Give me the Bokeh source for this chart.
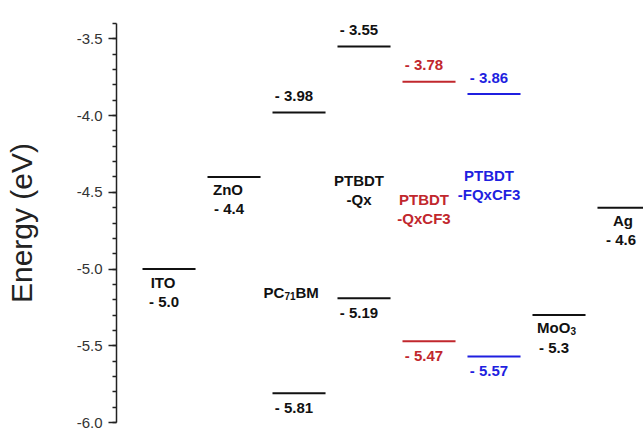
import math
from bokeh.plotting import figure
from bokeh.models import Range1d, SingleIntervalTicker, NumeralTickFormatter, ColumnDataSource
from bokeh.core.properties import value
from bokeh.embed import file_html
from bokeh.resources import INLINE

# ---------------- data ----------------
materials = ["ITO", "ZnO", "PC71BM", "PTBDT-Qx", "PTBDT-QxCF3", "PTBDT-FQxCF3", "MoO3", "Ag"]
electrode_levels = [-5.0, -4.4, None, None, None, None, -5.3, -4.6]
lumo_levels = [None, None, -3.98, -3.55, -3.78, -3.86, None, None]
homo_levels = [None, None, -5.81, -5.19, -5.47, -5.57, None, None]
material_colors = ["#111111", "#111111", "#111111", "#111111", "#c1272d", "#1f1fe0", "#111111", "#111111"]
# energy at which the material name of the organic layers is written
name_anchor = {"PC71BM": -5.15, "PTBDT-Qx": -4.42, "PTBDT-QxCF3": -4.55, "PTBDT-FQxCF3": -4.39}
axis_title = "Energy (eV)"

# ---------------- styles ----------------
FONT = "Liberation Sans"
HALF_W = 0.408
LBL_SIZE = "15px"
SUB_SIZE = "10px"

p = figure(width=643, height=429, output_backend="svg", toolbar_location=None,
           x_range=Range1d(-0.808, 7.3), y_range=Range1d(-6.0, -3.4),
           min_border_left=116, min_border_right=0, min_border_top=23, min_border_bottom=7)
p.xaxis.visible = False
p.xgrid.visible = False
p.ygrid.visible = False
p.outline_line_color = None
p.background_fill_color = "white"
p.border_fill_color = "white"

yax = p.yaxis[0]
yax.ticker = SingleIntervalTicker(interval=0.5, num_minor_ticks=5)
yax.formatter = NumeralTickFormatter(format="0.0")
yax.major_tick_out = 8
yax.major_tick_in = 0
yax.minor_tick_out = 4
yax.minor_tick_in = 0
yax.major_label_standoff = 6
yax.axis_line_width = 1.5
yax.axis_line_color = "#222222"
yax.major_tick_line_color = "#222222"
yax.minor_tick_line_color = "#222222"
yax.major_tick_line_width = 1.5
yax.minor_tick_line_width = 1.5
yax.major_label_text_font = FONT
yax.major_label_text_font_size = "15px"
yax.major_label_text_color = "#333333"
yax.axis_label = axis_title
yax.axis_label_text_font = FONT
yax.axis_label_text_font_size = "30px"
yax.axis_label_text_font_style = "normal"
yax.axis_label_text_color = "#222222"
yax.axis_label_standoff = 36

# ---------------- level lines ----------------
x0, x1, ys, cs = [], [], [], []
for i, m in enumerate(materials):
    for lv in (electrode_levels[i], lumo_levels[i], homo_levels[i]):
        if lv is not None:
            x0.append(i - HALF_W)
            x1.append(i + HALF_W)
            ys.append(lv)
            cs.append(material_colors[i])
p.segment(x0="x0", y0="y", x1="x1", y1="y", line_width=2, line_color="c",
          source=ColumnDataSource(dict(x0=x0, x1=x1, y=ys, c=cs)))

# ---------------- texts (centered) ----------------
tx, ty, tt, tc, tdx, tdy = [], [], [], [], [], []

def add(x, y, t, c, dx, dy):
    tx.append(x); ty.append(y); tt.append(t); tc.append(c); tdx.append(dx); tdy.append(dy)

display_names = {"ITO": ["ITO"], "ZnO": ["ZnO"], "Ag": ["Ag"],
                 "PTBDT-Qx": ["PTBDT", "-Qx"], "PTBDT-QxCF3": ["PTBDT", "-QxCF3"],
                 "PTBDT-FQxCF3": ["PTBDT", "-FQxCF3"]}

for i, m in enumerate(materials):
    c = material_colors[i]
    ev = electrode_levels[i]
    if ev is not None:
        if m in display_names:
            add(i, ev, display_names[m][0], c, -6 if m != "Ag" else -1, 13)
        add(i, ev, "- %.1f" % abs(ev), c, -5 if m != "Ag" else -3, 32)
    if lumo_levels[i] is not None:
        add(i, lumo_levels[i], "- %.2f" % abs(lumo_levels[i]), c, -5, -17)
    if homo_levels[i] is not None:
        add(i, homo_levels[i], "- %.2f" % abs(homo_levels[i]), c, -5, 14)
    if m in name_anchor and m in display_names:
        for k, line in enumerate(display_names[m]):
            add(i, name_anchor[m], line, c, -5, 19 * k)

p.text(x="x", y="y", text="t", text_color="c", x_offset="dx", y_offset="dy",
       text_font=value(FONT), text_font_style="bold", text_font_size=LBL_SIZE,
       text_align="center", text_baseline="middle",
       source=ColumnDataSource(dict(x=tx, y=ty, t=tt, c=tc, dx=tdx, dy=tdy)))

# ---------------- texts with subscripts (left aligned pieces) ----------------
sx, sy, st, sdx, sdy, ssz = [], [], [], [], [], []
i_pc = materials.index("PC71BM")
for piece, dx, dy, sz in (("PC", -35.5, 0, LBL_SIZE), ("71", -14.5, 4, SUB_SIZE), ("BM", -3.5, 0, LBL_SIZE)):
    sx.append(i_pc); sy.append(name_anchor["PC71BM"]); st.append(piece); sdx.append(dx); sdy.append(dy); ssz.append(sz)
i_mo = materials.index("MoO3")
for piece, dx, dy, sz in (("MoO", -22, 12, LBL_SIZE), ("3", 11.5, 16, SUB_SIZE)):
    sx.append(i_mo); sy.append(electrode_levels[i_mo]); st.append(piece); sdx.append(dx); sdy.append(dy); ssz.append(sz)

p.text(x="x", y="y", text="t", x_offset="dx", y_offset="dy", text_font_size="sz",
       text_font=value(FONT), text_font_style="bold", text_color="#111111",
       text_align="left", text_baseline="middle",
       source=ColumnDataSource(dict(x=sx, y=sy, t=st, dx=sdx, dy=sdy, sz=ssz)))

open("out.html", "w").write(file_html(p, INLINE))
